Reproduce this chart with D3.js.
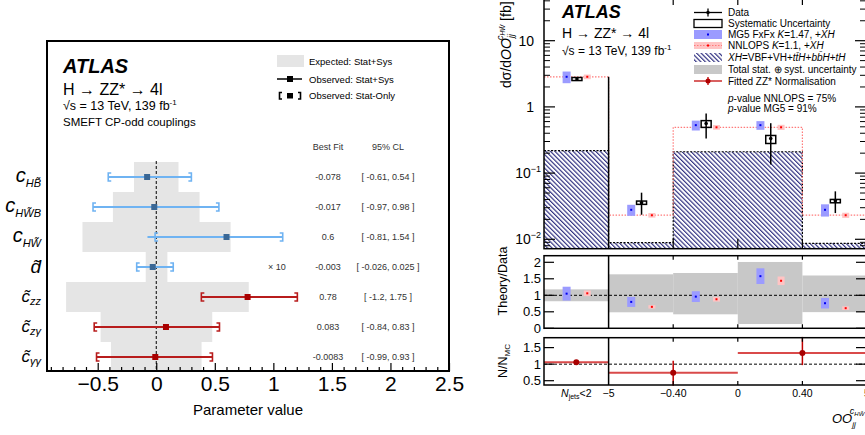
<!DOCTYPE html>
<html><head><meta charset="utf-8">
<script src="https://cdn.jsdelivr.net/npm/d3@7"></script>
<style>body{margin:0;background:#fff}svg{display:block;font-family:"Liberation Sans",Arial,Helvetica,sans-serif}</style>
</head><body><svg id="c" width="865" height="435"></svg>
<script>
// ================= LEFT PANEL DATA =================
const paramNames = ["cHB","cHWB","cHW","dt","czz","cza","caa"];
const paramMain  = ["c","c","c","d\u0303","c\u0303","c\u0303","c\u0303"];
const paramSub   = ["HB\u0303","HW\u0303B","HW\u0303","","zz","z\u03b3","\u03b3\u03b3"];
const paramScale = [1,1,1,10,1,1,1];
const paramGroup = ["blue","blue","blue","blue","red","red","red"];
const bestFit     = [-0.078,-0.017,0.6,-0.003,0.78,0.083,-0.0083];
const bestFitText = ["-0.078","-0.017","0.6","-0.003","0.78","0.083","-0.0083"];
const cl95Text    = ["[ -0.61, 0.54 ]","[ -0.97, 0.98 ]","[ -0.81, 1.54 ]","[ -0.026, 0.025 ]","[ -1.2, 1.75 ]","[ -0.84, 0.83 ]","[ -0.99, 0.93 ]"];
const expLo  = [-0.19,-0.37,-0.63,-0.009,-0.77,-0.475,-0.387];
const expHi  = [0.19,0.37,0.635,0.0095,0.79,0.478,0.387];
const obsLo  = [-0.41,-0.54,-0.075,-0.0167,0.385,-0.53,-0.51];
const obsHi  = [0.30,0.535,1.08,0.0145,1.205,0.54,0.48];
const statLo = [-0.41,-0.54,-0.01,-0.0167,0.385,-0.53,-0.51];
const statHi = [0.30,0.535,1.08,0.0145,1.205,0.54,0.48];
const xTicksL = [-0.5,0,0.5,1,1.5,2,2.5];

// ================= RIGHT PANEL DATA =================
const binIdx = [0,1,2,3,4];
const edgeLabels = ["\u22125","\u22120.40","0","0.40","5"];
const xhVal     = [0.218,0.0089,0.21,0.21,0.0087];
const nnlopsVal = [2.85,0.0231,0.492,0.492,0.0231];
const mg5Val    = [2.85,0.0279,0.53,0.53,0.0279];
const dataVal   = [2.63,0.0356,0.56,0.332,0.0382];
const dataLo    = [2.5,0.0235,0.333,0.135,0.0249];
const dataHi    = [2.8,0.0506,0.795,0.567,0.053];
const systLo    = [2.5,0.0337,0.49,0.28,0.0356];
const systHi    = [2.78,0.0378,0.62,0.37,0.040];
const mg5Unc    = [0.2,0.19,0.17,0.15,0.21];
const nnlopsUnc = [0.08,0.08,0.08,0.09,0.09];
const mg5Ratio    = [1.05,0.8,0.96,1.58,0.76];
const nnlopsRatio = [1.06,0.65,0.88,1.44,0.61];
const totLo = [0.82,0.485,0.424,0.13,0.49];
const totHi = [1.18,1.636,1.676,2.01,1.6];
const normFrom = [0,1,3];
const normTo   = [1,3,5];
const normPos  = [0.5,2,4];
const normVal  = [1.06,0.74,1.34];
const normLo   = [1.04,0.2,0.97];
const normHi   = [1.08,1.1,1.95];
const mainTicks = [0.01,0.1,1,10];
const ratioTicks = [0,0.5,1,1.5,2];
const normTicks = [0.5,1,1.5];

const svg = d3.select("#c");
const FONT = '"Liberation Sans",Arial,Helvetica,sans-serif';

function addText(g, x, y, parts, opt) {
  opt = opt || {};
  const t = g.append("text").attr("x", x).attr("y", y)
    .attr("text-anchor", opt.anchor || "start")
    .attr("font-size", opt.size || 12)
    .attr("fill", opt.fill || "#000");
  if (opt.transform) t.attr("transform", opt.transform);
  parts.forEach(p => {
    const s = t.append("tspan").text(p.t);
    if (p.size) s.attr("font-size", p.size);
    if (p.dy) s.attr("dy", p.dy);
    if (p.dx) s.attr("dx", p.dx);
    if (p.i) s.attr("font-style", "italic");
    if (p.b) s.attr("font-weight", "bold");
  });
  return t;
}

// ================= LEFT PANEL =================
const L = {x0:47, x1:449, y0:41, y1:371};
const xL = d3.scaleLinear().domain([-0.933, 2.5]).range([L.x0, L.x1]);
const yL = d3.scalePoint().domain(paramNames).range([177, 357]);
const gL = svg.append("g");

gL.selectAll("rect.exp").data(paramNames).join("rect")
  .attr("x", (p,i) => xL(expLo[i]*paramScale[i]))
  .attr("width", (p,i) => xL(expHi[i]*paramScale[i]) - xL(expLo[i]*paramScale[i]))
  .attr("y", p => yL(p) - 15).attr("height", 30)
  .attr("fill", "#e5e5e5");

gL.append("line").attr("x1", xL(0)).attr("x2", xL(0)).attr("y1", 161).attr("y2", L.y1)
  .attr("stroke", "#000").attr("stroke-width", 1).attr("stroke-dasharray", "3,2");

const colLine = {blue:"#6fb3f2", red:"#b81c1c"};
const colMark = {blue:"#3a6795", red:"#a80000"};

paramNames.forEach((p, i) => {
  const y = yL(p), s = paramScale[i], g = paramGroup[i];
  gL.append("line").attr("x1", xL(obsLo[i]*s)).attr("x2", xL(obsHi[i]*s))
    .attr("y1", y).attr("y2", y).attr("stroke", colLine[g]).attr("stroke-width", 1.8);
  const a = xL(statLo[i]*s), b = xL(statHi[i]*s);
  gL.append("path").attr("d", `M${a+3},${y-4}H${a}V${y+4}H${a+3}M${b-3},${y-4}H${b}V${y+4}H${b-3}`)
    .attr("fill", "none").attr("stroke", colLine[g]).attr("stroke-width", 1.6);
  gL.append("line").attr("x1", a).attr("x2", b).attr("y1", y).attr("y2", y)
    .attr("stroke", colLine[g]).attr("stroke-width", 1.8);
  gL.append("rect").attr("x", xL(bestFit[i]*s) - 3).attr("y", y - 3)
    .attr("width", 6).attr("height", 6).attr("fill", colMark[g]);
  addText(gL, 328, y + 3, [{t: bestFitText[i]}], {anchor:"middle", size:9, fill:"#333"});
  addText(gL, 388, y + 3, [{t: cl95Text[i]}], {anchor:"middle", size:9, fill:"#333"});
  if (paramScale[i] !== 1) addText(gL, 277, y + 3, [{t: "\u00d7 10"}], {anchor:"middle", size:9, fill:"#333"});
  if (paramSub[i] === "") {
    addText(gL, 41, y + 6, [{t: paramMain[i], i:true}], {anchor:"end", size:19});
  } else if (i < 3) {
    addText(gL, 41, y + 5, [{t: paramMain[i], i:true, size:20}, {t: paramSub[i], i:true, size:11, dy:5}], {anchor:"end", size:20});
  } else {
    addText(gL, 41, y + 5, [{t: paramMain[i], i:true, size:17}, {t: paramSub[i], i:true, size:11, dy:3}], {anchor:"end", size:17});
  }
});

gL.append("rect").attr("x", L.x0).attr("y", L.y0).attr("width", L.x1-L.x0).attr("height", L.y1-L.y0)
  .attr("fill", "none").attr("stroke", "#000").attr("stroke-width", 2);

const axL = d3.axisBottom(xL).tickValues(xTicksL).tickSizeInner(-8).tickSizeOuter(0).tickPadding(5)
  .tickFormat(d => d3.format("~g")(d));
const gAx = gL.append("g").attr("transform", `translate(0,${L.y1})`).call(axL);
gAx.select(".domain").remove();
gAx.selectAll("text").attr("font-size", 21).attr("font-family", FONT).attr("fill", "#000");
gAx.selectAll("line").attr("stroke-width", 1.2);
const minorL = d3.range(-9, 26).map(v => v/10).filter(v => Math.abs(v*2 - Math.round(v*2)) > 1e-6);
const gMin = gL.append("g").attr("transform", `translate(0,${L.y1})`)
  .call(d3.axisBottom(xL).tickValues(minorL).tickSizeInner(-4).tickSizeOuter(0).tickFormat(""));
gMin.select(".domain").remove();
gMin.selectAll("line").attr("stroke-width", 1.2);
addText(gL, 248, 415, [{t:"Parameter value"}], {anchor:"middle", size:15});

addText(gL, 63, 73, [{t:"ATLAS", b:true, i:true}], {size:20});
addText(gL, 63, 95, [{t:"H \u2192 ZZ* \u2192 4l"}], {size:16});
addText(gL, 63, 110, [{t:"\u221as = 13 TeV, 139 fb"},{t:"-1", size:8, dy:-5}], {size:12.5});
addText(gL, 63, 126, [{t:"SMEFT CP-odd couplings"}], {size:11.5});
addText(gL, 328, 150, [{t:"Best Fit"}], {anchor:"middle", size:9, fill:"#333"});
addText(gL, 388, 150, [{t:"95% CL"}], {anchor:"middle", size:9, fill:"#333"});

gL.append("rect").attr("x", 277).attr("y", 55).attr("width", 27).attr("height", 12).attr("fill", "#e5e5e5");
addText(gL, 309, 65, [{t:"Expected: Stat+Sys"}], {size:9.5});
gL.append("line").attr("x1", 277).attr("x2", 302).attr("y1", 79).attr("y2", 79).attr("stroke", "#000").attr("stroke-width", 1.5);
gL.append("rect").attr("x", 287).attr("y", 76).attr("width", 6).attr("height", 6).attr("fill", "#000");
addText(gL, 309, 82.5, [{t:"Observed: Stat+Sys"}], {size:9.5});
gL.append("path").attr("d", "M282,92.5H279.5V99H282M298,92.5H300.5V99H298").attr("fill","none").attr("stroke","#000").attr("stroke-width",1.6);
gL.append("rect").attr("x", 287).attr("y", 93).attr("width", 6).attr("height", 5.5).attr("fill", "#000");
addText(gL, 309, 99, [{t:"Observed: Stat-Only"}], {size:9.5});

// ================= RIGHT PANEL =================
const xE = d3.scaleLinear().domain([0,5]).range([544, 867]);
const bw = xE(1) - xE(0);
const M = {y0:-5, y1:248.7};
const R = {y0:255.7, y1:328.3};
const N = {y0:337.7, y1:385};
const yMain = d3.scaleLog().domain([0.00721, 49]).range([M.y1, M.y0]);
const yRat = d3.scaleLinear().domain([0, 2.2]).range([R.y1, R.y0]);
const yNorm = d3.scaleLinear().domain([0.37, 1.8]).range([N.y1, N.y0]);
const gR = svg.append("g");

const defs = svg.append("defs");
const pat = defs.append("pattern").attr("id","hatch").attr("patternUnits","userSpaceOnUse")
  .attr("width",3.2).attr("height",3.2).attr("patternTransform","rotate(-45)");
pat.append("rect").attr("width",3.2).attr("height",3.2).attr("fill","#fff");
pat.append("line").attr("x1",0.6).attr("x2",0.6).attr("y1",0).attr("y2",3.2).attr("stroke","#23237a").attr("stroke-width",1.1);

gR.selectAll("rect.xh").data(binIdx).join("rect")
  .attr("x", i => xE(i)).attr("width", bw)
  .attr("y", i => yMain(xhVal[i])).attr("height", i => M.y1 - yMain(xhVal[i]))
  .attr("fill", "url(#hatch)");
function stepPath(vals, yS) {
  let d = `M${xE(0)},${yS(vals[0])}`;
  vals.forEach((v,i) => { d += `V${yS(v)}H${xE(i+1)}`; });
  return d;
}
gR.append("path").attr("d", stepPath(xhVal, yMain)).attr("fill","none")
  .attr("stroke","#000").attr("stroke-width",1.2).attr("stroke-dasharray","2,1.5");
gR.append("path").attr("d", stepPath(nnlopsVal, yMain)).attr("fill","none")
  .attr("stroke","#ff7a7a").attr("stroke-width",1.2).attr("stroke-dasharray","1.5,1.5");
gR.append("line").attr("x1", xE(1)).attr("x2", xE(1)).attr("y1", yMain(nnlopsVal[0])).attr("y2", M.y1)
  .attr("stroke","#000").attr("stroke-width",1.5);

const offMG = 0.35, offD = 0.51, offNN = 0.67;
binIdx.forEach(i => {
  const xm = xE(i + offMG), xd = xE(i + offD), xn = xE(i + offNN);
  gR.append("rect").attr("x", xm-4).attr("width", 8)
    .attr("y", yMain(mg5Val[i]*(1+mg5Unc[i]))).attr("height", yMain(mg5Val[i]*(1-mg5Unc[i])) - yMain(mg5Val[i]*(1+mg5Unc[i])))
    .attr("fill", "#9b9bff");
  gR.append("rect").attr("x", xm-1).attr("y", yMain(mg5Val[i])-1).attr("width",2).attr("height",2).attr("fill","#0000ee");
  gR.append("rect").attr("x", xn-3.5).attr("width", 7)
    .attr("y", yMain(nnlopsVal[i]*(1+nnlopsUnc[i]))).attr("height", yMain(nnlopsVal[i]*(1-nnlopsUnc[i])) - yMain(nnlopsVal[i]*(1+nnlopsUnc[i])))
    .attr("fill", "#ffc4c4");
  gR.append("rect").attr("x", xn-1).attr("y", yMain(nnlopsVal[i])-1).attr("width",2).attr("height",2).attr("fill","#ff0000");
  gR.append("line").attr("x1", xd).attr("x2", xd).attr("y1", yMain(dataHi[i])).attr("y2", yMain(dataLo[i]))
    .attr("stroke","#000").attr("stroke-width",1.5);
  gR.append("rect").attr("x", xd-5).attr("width", 10)
    .attr("y", yMain(systHi[i])).attr("height", Math.max(2, yMain(systLo[i]) - yMain(systHi[i])))
    .attr("fill","none").attr("stroke","#000").attr("stroke-width",1.5);
  gR.append("circle").attr("cx", xd).attr("cy", yMain(dataVal[i])).attr("r", 1.8).attr("fill","#000");
});

gR.append("rect").attr("x", xE(0)).attr("y", M.y0).attr("width", xE(5)-xE(0)).attr("height", M.y1-M.y0)
  .attr("fill","none").attr("stroke","#000").attr("stroke-width",1.5);

const minorMain = [];
[-3,-2,-1,0,1].forEach(e => { for (let k=2;k<10;k++){ const v=k*Math.pow(10,e); if (v>0.00721 && v<49) minorMain.push(v);} });
function yTicks(g, scale, majors, minors, xl, xr, lenMaj, lenMin) {
  majors.forEach(v => {
    g.append("line").attr("x1", xl).attr("x2", xl+lenMaj).attr("y1", scale(v)).attr("y2", scale(v)).attr("stroke","#000").attr("stroke-width",1.2);
    g.append("line").attr("x1", xr).attr("x2", xr-lenMaj).attr("y1", scale(v)).attr("y2", scale(v)).attr("stroke","#000").attr("stroke-width",1.2);
  });
  minors.forEach(v => {
    g.append("line").attr("x1", xl).attr("x2", xl+lenMin).attr("y1", scale(v)).attr("y2", scale(v)).attr("stroke","#000").attr("stroke-width",1);
    g.append("line").attr("x1", xr).attr("x2", xr-lenMin).attr("y1", scale(v)).attr("y2", scale(v)).attr("stroke","#000").attr("stroke-width",1);
  });
}
yTicks(gR, yMain, mainTicks, minorMain, xE(0), 866, 11, 6);
addText(gR, 534, yMain(10)+5, [{t:"10"}], {anchor:"end", size:14});
addText(gR, 534, yMain(1)+5, [{t:"1"}], {anchor:"end", size:14});
addText(gR, 541, yMain(0.1)+5, [{t:"10"},{t:"\u22121", size:9, dy:-6}], {anchor:"end", size:14});
addText(gR, 541, yMain(0.01)+5, [{t:"10"},{t:"\u22122", size:9, dy:-6}], {anchor:"end", size:14});
function edgeTicks(g, y0, y1, len) {
  [2,3,4].forEach(e => {
    g.append("line").attr("x1", xE(e)).attr("x2", xE(e)).attr("y1", y0).attr("y2", y0+len).attr("stroke","#000").attr("stroke-width",1.2);
    g.append("line").attr("x1", xE(e)).attr("x2", xE(e)).attr("y1", y1).attr("y2", y1-len).attr("stroke","#000").attr("stroke-width",1.2);
  });
}
edgeTicks(gR, M.y0, M.y1, 10);

addText(gR, 0, 0, [{t:"d\u03c3/d"},{t:"OO", i:true},{t:"jj", i:true, size:9, dy:3},{t:"c", i:true, size:9, dx:-6, dy:-11},{t:"HW\u0303", i:true, size:6.5, dy:2},{t:" [fb]", size:14, dy:6}],
  {size:14, transform:"translate(511,88) rotate(-90)"});

addText(gR, 562, 18, [{t:"ATLAS", b:true, i:true}], {size:18});
addText(gR, 562, 38, [{t:"H \u2192 ZZ* \u2192 4l"}], {size:14});
addText(gR, 562, 55, [{t:"\u221as = 13 TeV, 139 fb"},{t:"-1", size:8, dy:-5}], {size:12});

const lgX0 = 694, lgX1 = 722, lgXc = 708, lgT = 728;
const lgY = [12.5, 23.5, 34.5, 45.5, 57.5, 69.5, 81];
gR.append("line").attr("x1",lgX0).attr("x2",lgX1).attr("y1",lgY[0]).attr("y2",lgY[0]).attr("stroke","#000").attr("stroke-width",1.3);
gR.append("line").attr("x1",lgXc).attr("x2",lgXc).attr("y1",lgY[0]-4).attr("y2",lgY[0]+4).attr("stroke","#000").attr("stroke-width",1.3);
gR.append("circle").attr("cx",lgXc).attr("cy",lgY[0]).attr("r",1.8).attr("fill","#000");
gR.append("rect").attr("x",lgX0).attr("y",lgY[1]-4).attr("width",lgX1-lgX0).attr("height",8).attr("fill","none").attr("stroke","#000").attr("stroke-width",1.3);
gR.append("rect").attr("x",lgX0).attr("y",lgY[2]-4.5).attr("width",lgX1-lgX0).attr("height",9).attr("fill","#9b9bff");
gR.append("rect").attr("x",lgXc-1).attr("y",lgY[2]-1).attr("width",2).attr("height",2).attr("fill","#0000ee");
gR.append("rect").attr("x",lgX0).attr("y",lgY[3]-3.5).attr("width",lgX1-lgX0).attr("height",7).attr("fill","#ffc4c4");
gR.append("line").attr("x1",lgX0).attr("x2",lgX1).attr("y1",lgY[3]).attr("y2",lgY[3]).attr("stroke","#ff7a7a").attr("stroke-width",1.2).attr("stroke-dasharray","1.5,1.5");
gR.append("rect").attr("x",lgXc-1).attr("y",lgY[3]-1).attr("width",2).attr("height",2).attr("fill","#ff0000");
gR.append("rect").attr("x",lgX0).attr("y",lgY[4]-4.5).attr("width",lgX1-lgX0).attr("height",9).attr("fill","url(#hatch)");
gR.append("rect").attr("x",lgX0).attr("y",lgY[5]-4.5).attr("width",lgX1-lgX0).attr("height",9).attr("fill","#c8c8c8");
gR.append("line").attr("x1",lgX0).attr("x2",lgX1).attr("y1",lgY[6]).attr("y2",lgY[6]).attr("stroke","#d03a3a").attr("stroke-width",1.6);
gR.append("line").attr("x1",lgXc).attr("x2",lgXc).attr("y1",lgY[6]-4).attr("y2",lgY[6]+4).attr("stroke","#c00000").attr("stroke-width",1.3);
gR.append("circle").attr("cx",lgXc).attr("cy",lgY[6]).attr("r",2.5).attr("fill","#b00000");
const lgs = 10;
addText(gR, lgT, lgY[0]+3.5, [{t:"Data"}], {size:lgs});
addText(gR, lgT, lgY[1]+3.5, [{t:"Systematic Uncertainty"}], {size:lgs});
addText(gR, lgT, lgY[2]+3.5, [{t:"MG5 FxFx "},{t:"K", i:true},{t:"=1.47, +"},{t:"XH", i:true}], {size:lgs});
addText(gR, lgT, lgY[3]+3.5, [{t:"NNLOPS "},{t:"K", i:true},{t:"=1.1, +"},{t:"XH", i:true}], {size:lgs});
addText(gR, lgT, lgY[4]+3.5, [{t:"XH", i:true},{t:"=VBF+VH+"},{t:"tt\u0304H", i:true},{t:"+"},{t:"bb\u0304H", i:true},{t:"+"},{t:"tH", i:true}], {size:lgs});
addText(gR, lgT, lgY[5]+3.5, [{t:"Total stat. \u2295 syst. uncertainty"}], {size:lgs});
addText(gR, lgT, lgY[6]+3.5, [{t:"Fitted ZZ* Normalisation"}], {size:lgs});
addText(gR, lgT, 101.5, [{t:"p", i:true},{t:"-value NNLOPS = 75%"}], {size:lgs});
addText(gR, lgT, 112, [{t:"p", i:true},{t:"-value MG5 = 91%"}], {size:lgs});

gR.selectAll("rect.tot").data(binIdx).join("rect")
  .attr("x", i => xE(i)).attr("width", bw)
  .attr("y", i => yRat(totHi[i])).attr("height", i => yRat(totLo[i]) - yRat(totHi[i]))
  .attr("fill", "#c8c8c8");
gR.append("line").attr("x1", xE(0)).attr("x2", xE(5)).attr("y1", yRat(1)).attr("y2", yRat(1))
  .attr("stroke","#000").attr("stroke-width",1).attr("stroke-dasharray","3,2");
binIdx.forEach(i => {
  const xm = xE(i + offMG), xn = xE(i + offNN);
  const r = mg5Ratio[i], u = r*mg5Unc[i];
  gR.append("rect").attr("x", xm-4).attr("width", 8).attr("y", yRat(r+u)).attr("height", yRat(r-u)-yRat(r+u)).attr("fill","#9b9bff");
  gR.append("rect").attr("x", xm-1).attr("y", yRat(r)-1).attr("width",2).attr("height",2).attr("fill","#0000ee");
  const q = nnlopsRatio[i], w = q*nnlopsUnc[i];
  gR.append("rect").attr("x", xn-3.5).attr("width", 7).attr("y", yRat(q+w)).attr("height", yRat(q-w)-yRat(q+w)).attr("fill","#ffc4c4");
  gR.append("rect").attr("x", xn-1).attr("y", yRat(q)-1).attr("width",2).attr("height",2).attr("fill","#ff0000");
});
gR.append("line").attr("x1", xE(1)).attr("x2", xE(1)).attr("y1", R.y0).attr("y2", R.y1).attr("stroke","#000").attr("stroke-width",1.5);
gR.append("rect").attr("x", xE(0)).attr("y", R.y0).attr("width", xE(5)-xE(0)).attr("height", R.y1-R.y0)
  .attr("fill","none").attr("stroke","#000").attr("stroke-width",1.5);
yTicks(gR, yRat, ratioTicks, [], xE(0), 866, 10, 5);
edgeTicks(gR, R.y0, R.y1, 4);
ratioTicks.forEach(v => addText(gR, 541, yRat(v)+4.5, [{t: d3.format("~g")(v)}], {anchor:"end", size:13}));
addText(gR, 0, 0, [{t:"Theory/Data"}], {anchor:"middle", size:12.5, transform:"translate(507,281) rotate(-90)"});

gR.append("line").attr("x1", xE(0)).attr("x2", xE(5)).attr("y1", yNorm(1)).attr("y2", yNorm(1))
  .attr("stroke","#000").attr("stroke-width",1).attr("stroke-dasharray","3,2");
normVal.forEach((v,k) => {
  gR.append("line").attr("x1", xE(normFrom[k])).attr("x2", xE(normTo[k])).attr("y1", yNorm(v)).attr("y2", yNorm(v))
    .attr("stroke","#d94a4a").attr("stroke-width",2);
  gR.append("line").attr("x1", xE(normPos[k])).attr("x2", xE(normPos[k])).attr("y1", yNorm(normHi[k])).attr("y2", yNorm(normLo[k]))
    .attr("stroke","#c00000").attr("stroke-width",1.5);
  gR.append("circle").attr("cx", xE(normPos[k])).attr("cy", yNorm(v)).attr("r", 3).attr("fill","#a80000");
});
gR.append("line").attr("x1", xE(1)).attr("x2", xE(1)).attr("y1", N.y0).attr("y2", N.y1).attr("stroke","#000").attr("stroke-width",1.5);
gR.append("rect").attr("x", xE(0)+1).attr("y", N.y1+0.8).attr("width", 330).attr("height", 6).attr("fill","#fff");
gR.append("rect").attr("x", xE(0)+1).attr("y", R.y1+0.8).attr("width", 330).attr("height", N.y0-R.y1-1.6).attr("fill","#fff");
gR.append("rect").attr("x", xE(0)).attr("y", N.y0).attr("width", xE(5)-xE(0)).attr("height", N.y1-N.y0)
  .attr("fill","none").attr("stroke","#000").attr("stroke-width",1.5);
yTicks(gR, yNorm, normTicks, [], xE(0), 866, 10, 5);
edgeTicks(gR, N.y0, N.y1, 4);
normTicks.forEach(v => addText(gR, 541, yNorm(v)+4.5, [{t: d3.format("~g")(v)}], {anchor:"end", size:13}));
addText(gR, 0, 0, [{t:"N/N"},{t:"MC", size:8, dy:3}], {anchor:"middle", size:12.5, transform:"translate(507,361) rotate(-90)"});

addText(gR, xE(0.5), 397, [{t:"N", i:true},{t:"jets", size:7, dy:2},{t:"<2", dy:-2}], {anchor:"middle", size:10.5});
edgeLabels.forEach((s,k) => addText(gR, xE(k+1), 397, [{t:s}], {anchor:"middle", size:10.5}));
addText(gR, 832, 423, [{t:"OO", i:true},{t:"jj", i:true, size:8, dy:4},{t:"c", i:true, size:9, dx:-6, dy:-13},{t:"HW\u0303", i:true, size:6, dy:2}], {size:13});
</script></body></html>
